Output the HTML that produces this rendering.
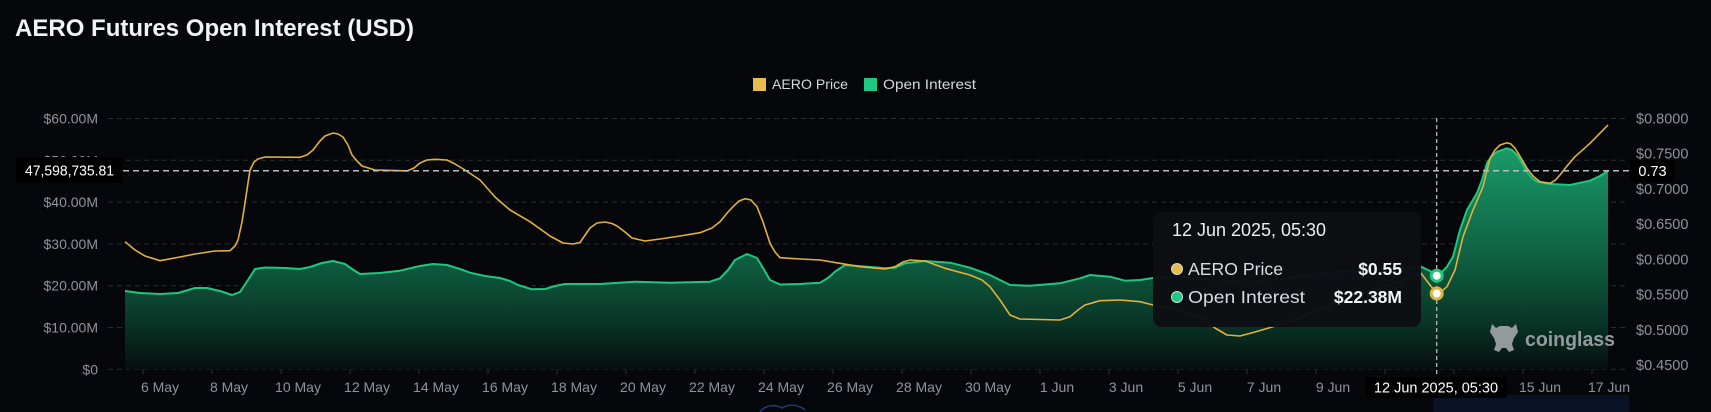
<!DOCTYPE html>
<html>
<head>
<meta charset="utf-8">
<style>
  html,body{margin:0;padding:0;background:#05070b;}
  svg{display:block;}
  text{font-family:"Liberation Sans",Arial,sans-serif;}
</style>
</head>
<body>
<svg width="1711" height="412" viewBox="0 0 1711 412" xmlns="http://www.w3.org/2000/svg">
  <defs>
    <linearGradient id="ga" x1="0" y1="148" x2="0" y2="370" gradientUnits="userSpaceOnUse">
      <stop offset="0" stop-color="#1b9a69"/>
      <stop offset="0.45" stop-color="#0f6546"/>
      <stop offset="0.75" stop-color="#0a3b2a"/>
      <stop offset="1" stop-color="#060e0d"/>
    </linearGradient>
  </defs>
  <rect x="0" y="0" width="1711" height="412" fill="#05070b"/>

  <!-- Title -->
  <text x="15" y="36" font-size="24" font-weight="bold" fill="#f2f3f5" textLength="399" lengthAdjust="spacingAndGlyphs">AERO Futures Open Interest (USD)</text>

  <!-- Legend -->
  <rect x="753" y="78" width="13" height="13" fill="#e8bb4e"/>
  <text x="772" y="89" font-size="14" fill="#d6d8dc" textLength="76" lengthAdjust="spacingAndGlyphs">AERO Price</text>
  <rect x="864" y="78" width="13" height="13" fill="#1ec985"/>
  <text x="883" y="89" font-size="14" fill="#d6d8dc" textLength="93" lengthAdjust="spacingAndGlyphs">Open Interest</text>

  <!-- Grid lines -->
  <g stroke="#2a2d33" stroke-width="1" stroke-dasharray="5 4">
    <line x1="108" y1="118.5" x2="1626" y2="118.5"/>
    <line x1="108" y1="160.3" x2="1626" y2="160.3"/>
    <line x1="108" y1="202.1" x2="1626" y2="202.1"/>
    <line x1="108" y1="243.9" x2="1626" y2="243.9"/>
    <line x1="108" y1="285.7" x2="1626" y2="285.7"/>
    <line x1="108" y1="327.5" x2="1626" y2="327.5"/>
    <line x1="108" y1="369.3" x2="1626" y2="369.3"/>
  </g>
  <!-- ticks -->
  <g stroke="#2e3238" stroke-width="1">
    <line x1="143" y1="369" x2="143" y2="374"/><line x1="212" y1="369" x2="212" y2="374"/>
    <line x1="281" y1="369" x2="281" y2="374"/><line x1="350" y1="369" x2="350" y2="374"/>
    <line x1="419" y1="369" x2="419" y2="374"/><line x1="488" y1="369" x2="488" y2="374"/>
    <line x1="557" y1="369" x2="557" y2="374"/><line x1="626" y1="369" x2="626" y2="374"/>
    <line x1="695" y1="369" x2="695" y2="374"/><line x1="764" y1="369" x2="764" y2="374"/>
    <line x1="833" y1="369" x2="833" y2="374"/><line x1="902" y1="369" x2="902" y2="374"/>
    <line x1="971" y1="369" x2="971" y2="374"/><line x1="1040" y1="369" x2="1040" y2="374"/>
    <line x1="1109" y1="369" x2="1109" y2="374"/><line x1="1178" y1="369" x2="1178" y2="374"/>
    <line x1="1247" y1="369" x2="1247" y2="374"/><line x1="1316" y1="369" x2="1316" y2="374"/>
    <line x1="1385" y1="369" x2="1385" y2="374"/><line x1="1454" y1="369" x2="1454" y2="374"/>
    <line x1="1523" y1="369" x2="1523" y2="374"/><line x1="1592" y1="369" x2="1592" y2="374"/>
  </g>

  <!-- Left axis labels -->
  <g font-size="14" fill="#8f939b" text-anchor="end">
    <text x="98" y="123.5">$60.00M</text>
    <text x="98" y="165.3">$50.00M</text>
    <text x="98" y="207.1">$40.00M</text>
    <text x="98" y="248.9">$30.00M</text>
    <text x="98" y="290.7">$20.00M</text>
    <text x="98" y="332.5">$10.00M</text>
    <text x="98" y="374.3">$0</text>
  </g>
  <!-- Right axis labels -->
  <g font-size="14.5" fill="#8f939b">
    <text x="1636" y="123.3">$0.8000</text>
    <text x="1636" y="158.5">$0.7500</text>
    <text x="1636" y="193.8">$0.7000</text>
    <text x="1636" y="229">$0.6500</text>
    <text x="1636" y="264.3">$0.6000</text>
    <text x="1636" y="299.5">$0.5500</text>
    <text x="1636" y="334.8">$0.5000</text>
    <text x="1636" y="370">$0.4500</text>
  </g>
  <!-- X axis labels -->
  <g font-size="14" fill="#8f939b" text-anchor="middle">
    <text x="160" y="392">6 May</text>
    <text x="229" y="392">8 May</text>
    <text x="298" y="392">10 May</text>
    <text x="367" y="392">12 May</text>
    <text x="436" y="392">14 May</text>
    <text x="505" y="392">16 May</text>
    <text x="574" y="392">18 May</text>
    <text x="643" y="392">20 May</text>
    <text x="712" y="392">22 May</text>
    <text x="781" y="392">24 May</text>
    <text x="850" y="392">26 May</text>
    <text x="919" y="392">28 May</text>
    <text x="988" y="392">30 May</text>
    <text x="1057" y="392">1 Jun</text>
    <text x="1126" y="392">3 Jun</text>
    <text x="1195" y="392">5 Jun</text>
    <text x="1264" y="392">7 Jun</text>
    <text x="1333" y="392">9 Jun</text>
    <text x="1540" y="392">15 Jun</text>
    <text x="1609" y="392">17 Jun</text>
  </g>

  <!-- bottom slider fragments -->
  <rect x="1433" y="395" width="196" height="17" fill="#0a1226"/>
  <path d="M760,412 C765,405 775,404 782,408 C788,404 798,404 805,410" fill="none" stroke="#1e3b78" stroke-width="1.5"/>

  <!-- OI area -->
  <path fill="url(#ga)" d="M125,291 L140,293 L160,294 L178,293 L195,288 L207,288 L220,291 L232,295 L240,292 L248,280 L255,269 L265,267.5 L285,268 L300,269 L310,267 L322,263 L333,261 L345,264 L352,269 L360,274 L380,273 L400,270.7 L420,266 L433,264 L447,265 L460,269 L470,272.7 L485,276 L500,278 L510,281 L518,285 L532,289.3 L545,289 L555,286 L565,284 L600,284 L635,281.7 L670,282.7 L710,281.7 L720,278.3 L728,270 L735,260 L747,254 L757,258 L763,268 L770,280 L780,284.5 L800,284 L820,282.7 L828,278 L835,271.7 L845,265 L870,267 L885,268.3 L895,267.7 L905,263.3 L925,261 L950,262.7 L970,267.7 L990,275 L1000,280 L1010,285 L1030,285.7 L1060,283.3 L1080,278.3 L1090,275 L1110,276.7 L1125,280.7 L1140,280 L1153,278 L1180,276 L1210,280 L1250,282 L1290,278 L1330,272 L1370,270 L1400,268 L1421,266.7 L1430,271 L1436.7,275.7 L1442,272 L1447,266.7 L1453,256.7 L1460,230 L1467,210 L1477,193 L1482,180 L1487,163 L1492,156 L1497,151.7 L1507,148.3 L1512,150 L1517,155 L1522,163 L1527,171.7 L1532,178 L1537,181.7 L1550,184 L1570,185 L1590,180.7 L1600,176 L1608,171 L1608,369.3 L125,369.3 Z"/>
  <!-- OI line -->
  <path fill="none" stroke="#1fc77e" stroke-width="2" stroke-linejoin="round" d="M125,291 L140,293 L160,294 L178,293 L195,288 L207,288 L220,291 L232,295 L240,292 L248,280 L255,269 L265,267.5 L285,268 L300,269 L310,267 L322,263 L333,261 L345,264 L352,269 L360,274 L380,273 L400,270.7 L420,266 L433,264 L447,265 L460,269 L470,272.7 L485,276 L500,278 L510,281 L518,285 L532,289.3 L545,289 L555,286 L565,284 L600,284 L635,281.7 L670,282.7 L710,281.7 L720,278.3 L728,270 L735,260 L747,254 L757,258 L763,268 L770,280 L780,284.5 L800,284 L820,282.7 L828,278 L835,271.7 L845,265 L870,267 L885,268.3 L895,267.7 L905,263.3 L925,261 L950,262.7 L970,267.7 L990,275 L1000,280 L1010,285 L1030,285.7 L1060,283.3 L1080,278.3 L1090,275 L1110,276.7 L1125,280.7 L1140,280 L1153,278 L1180,276 L1210,280 L1250,282 L1290,278 L1330,272 L1370,270 L1400,268 L1421,266.7 L1430,271 L1436.7,275.7 L1442,272 L1447,266.7 L1453,256.7 L1460,230 L1467,210 L1477,193 L1482,180 L1487,163 L1492,156 L1497,151.7 L1507,148.3 L1512,150 L1517,155 L1522,163 L1527,171.7 L1532,178 L1537,181.7 L1550,184 L1570,185 L1590,180.7 L1600,176 L1608,171"/>
  <!-- Price line -->
  <path fill="none" stroke="#e1b13c" stroke-width="1.6" stroke-linejoin="round" d="M125,241.7 L135,250 L145,256 L160,260.7 L180,257 L195,254 L215,251 L230,250.7 L235,246 L238,240 L242,222 L245,203 L248,183 L250,170 L254,162 L258,159 L265,157 L300,157.3 L307,155 L313,150 L320,141 L325,136 L333,133 L338,134 L343,137 L348,145 L352,155 L357,161 L362,166 L375,170 L400,170.7 L407,171 L414,168 L420,163 L427,160 L435,159.3 L447,160 L455,164 L465,170 L480,180 L495,197 L510,210 L530,221.7 L550,236 L563,243 L573,244 L580,242.5 L590,228 L597,223 L605,222 L612,223.5 L617,226 L625,232 L632,238 L645,241 L660,239 L680,236 L700,232.7 L712,228 L720,221.7 L728,212 L733,206.7 L739,201 L745,198.7 L751,200 L757,206.7 L763,222 L770,243.3 L775,252 L780,257.7 L800,259 L820,260 L840,263.3 L860,266.7 L885,269 L895,266.7 L903,262 L910,260 L925,261 L945,268.3 L970,275 L982,280 L990,286.7 L1000,300 L1010,315 L1020,319 L1060,320 L1070,316.7 L1078,310 L1085,305 L1100,300.7 L1120,300 L1140,301.7 L1153,305 L1180,310 L1205,320 L1215,328 L1227,335 L1240,336 L1255,332 L1273,326.7 L1300,318 L1340,300 L1380,288 L1410,278 L1421,273.3 L1430,285 L1436.7,293.3 L1442,291 L1447,286.7 L1455,270 L1463,236.7 L1473,210 L1483,186.7 L1490,158.3 L1495,150 L1500,145 L1507,142.7 L1511,144 L1515,148.3 L1521,158 L1527,168.3 L1533,176 L1540,181.7 L1550,183.3 L1555,180.5 L1560,175 L1567,166 L1575,156.7 L1590,143.3 L1608,125"/>

  <!-- Watermark -->
  <g fill="#a3a7aa" opacity="0.9">
    <path d="M1492,324 L1496,328 L1500,326 L1508,326 L1512,328 L1516,324 L1518,332 L1514,338 L1512,344 L1514,350 L1509,352 L1506,348 L1502,348 L1499,352 L1494,350 L1496,344 L1494,338 L1490,332 Z"/>
    <text x="1525" y="346" font-size="20" font-weight="bold" textLength="90" lengthAdjust="spacingAndGlyphs">coinglass</text>
  </g>

  <!-- Crosshair lines -->
  <line x1="123" y1="170.7" x2="1630" y2="170.7" stroke="#bdbdbd" stroke-width="1.5" stroke-dasharray="6 4"/>
  <line x1="1436.7" y1="118" x2="1436.7" y2="377" stroke="#c4c4c4" stroke-width="1.2" stroke-dasharray="4 3"/>

  <!-- Axis pointer labels -->
  <rect x="16" y="157" width="107" height="26" rx="2" fill="#000000"/>
  <text x="69.5" y="175.5" font-size="14.5" fill="#ffffff" text-anchor="middle" textLength="89" lengthAdjust="spacingAndGlyphs">47,598,735.81</text>
  <rect x="1630" y="160" width="44" height="22" rx="2" fill="#000000"/>
  <text x="1652.5" y="176" font-size="14.5" fill="#ffffff" text-anchor="middle">0.73</text>
  <rect x="1366" y="377" width="141" height="21" rx="2" fill="#000000"/>
  <text x="1436" y="392.5" font-size="14.5" fill="#ffffff" text-anchor="middle" textLength="124" lengthAdjust="spacingAndGlyphs">12 Jun 2025, 05:30</text>

  <!-- Markers -->
  <circle cx="1436.7" cy="275.7" r="5.5" fill="#ffffff" stroke="#1fc77e" stroke-width="3"/>
  <circle cx="1436.7" cy="293.5" r="5.5" fill="#ffffff" stroke="#e1b13c" stroke-width="3"/>

  <!-- Tooltip -->
  <rect x="1153" y="212" width="268" height="115" rx="9" fill="#0c0e13" fill-opacity="0.97"/>
  <text x="1172" y="236" font-size="18" fill="#eceef1" textLength="154" lengthAdjust="spacingAndGlyphs">12 Jun 2025, 05:30</text>
  <circle cx="1177" cy="269" r="5.5" fill="#e8bb4e" stroke="#d8d8d8" stroke-width="1"/>
  <text x="1188" y="275" font-size="17.5" fill="#d9dce0" textLength="95" lengthAdjust="spacingAndGlyphs">AERO Price</text>
  <text x="1402" y="275" font-size="17.5" fill="#f2f3f5" font-weight="bold" text-anchor="end">$0.55</text>
  <circle cx="1177" cy="297" r="5.5" fill="#1ec985" stroke="#d8d8d8" stroke-width="1"/>
  <text x="1188" y="303" font-size="17.5" fill="#d9dce0" textLength="117" lengthAdjust="spacingAndGlyphs">Open Interest</text>
  <text x="1402" y="303" font-size="17.5" fill="#f2f3f5" font-weight="bold" text-anchor="end">$22.38M</text>
</svg>
</body>
</html>
